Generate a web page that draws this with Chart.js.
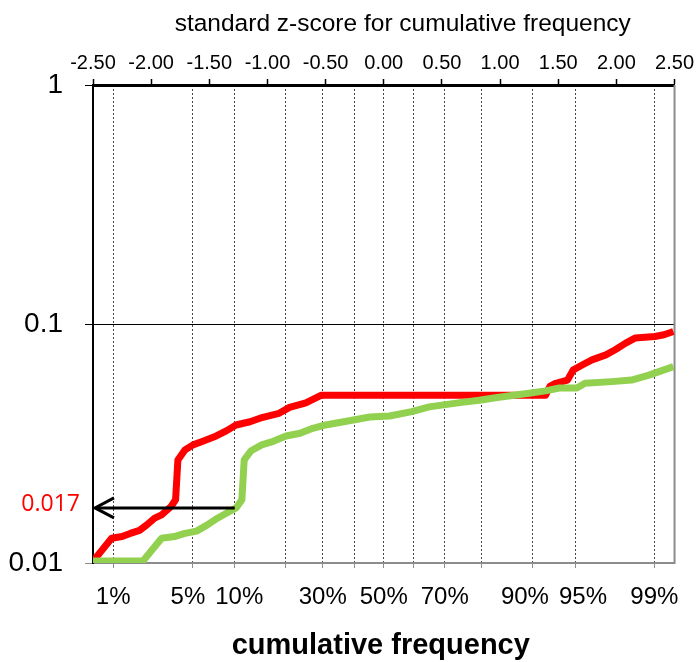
<!DOCTYPE html>
<html>
<head>
<meta charset="utf-8">
<script src="https://cdn.jsdelivr.net/npm/chart.js@4.4.1/dist/chart.umd.min.js"></script>
<style>
  html, body { margin: 0; padding: 0; background: #ffffff; }
  canvas { display: block; }
</style>
</head>
<body>
<canvas id="chart" width="698" height="662"></canvas>
<script>
// Sample 1 (red): standard z-score of cumulative frequency and measured value
const redZ = [-2.49, -2.34, -2.25, -2.18, -2.10, -2.04, -1.97, -1.91, -1.83, -1.79, -1.77, -1.71,
  -1.64, -1.55, -1.44, -1.35, -1.27, -1.15, -1.04, -0.90, -0.81, -0.67, -0.54, 1.39, 1.43, 1.48,
  1.58, 1.63, 1.71, 1.79, 1.91, 1.99, 2.08, 2.16, 2.33, 2.41, 2.49];
const redValues = [0.0103, 0.0127, 0.0129, 0.0133, 0.0137, 0.0144, 0.0154, 0.0159, 0.0172, 0.0184,
  0.0270, 0.0297, 0.0312, 0.0324, 0.0340, 0.0358, 0.0378, 0.0390, 0.0407, 0.0423, 0.0448, 0.0468,
  0.0503, 0.0503, 0.0550, 0.0565, 0.0583, 0.0643, 0.0675, 0.0708, 0.0743, 0.0780, 0.0832, 0.0873,
  0.0887, 0.0901, 0.0930];

// Sample 2 (green)
const greenZ = [-2.50, -2.07, -1.91, -1.80, -1.71, -1.61, -1.52, -1.43, -1.35, -1.27, -1.22, -1.20,
  -1.14, -1.05, -0.95, -0.84, -0.72, -0.61, -0.50, -0.38, -0.12, 0.05, 0.24, 0.39, 0.67, 0.82,
  0.99, 1.25, 1.39, 1.51, 1.66, 1.73, 1.96, 2.13, 2.28, 2.49];
const greenValues = [0.0102, 0.0102, 0.0127, 0.0129, 0.0133, 0.0136, 0.0144, 0.0154, 0.0162, 0.0170,
  0.0184, 0.0270, 0.0295, 0.0312, 0.0323, 0.0340, 0.0349, 0.0366, 0.0378, 0.0387, 0.0408, 0.0412,
  0.0430, 0.0450, 0.0470, 0.0480, 0.0494, 0.0513, 0.0525, 0.0540, 0.0540, 0.0565, 0.0574, 0.0583,
  0.0611, 0.0663];

// Top axis: z-score ticks
const topTicks = [-2.5, -2.0, -1.5, -1.0, -0.5, 0.0, 0.5, 1.0, 1.5, 2.0, 2.5];

// Bottom axis: cumulative-frequency gridlines at their normal quantiles
const gridPercents = ['1%', '5%', '10%', '20%', '30%', '40%', '50%', '60%', '70%', '80%', '90%', '95%', '99%'];
const gridZ = [-2.3263, -1.6449, -1.2816, -0.8416, -0.5244, -0.2533, 0, 0.2533, 0.5244, 0.8416, 1.2816, 1.6449, 2.3263];
const shownPercents = ['1%', '5%', '10%', '30%', '50%', '70%', '90%', '95%', '99%'];

// Value axis
const yTicks = [0.01, 0.1, 1];

// Read-off marker: value at the 10% frequency
const markedValue = 0.017;
const markedZ = -1.2816;

const FONT = '"Liberation Sans", Arial, Helvetica, sans-serif';
const LABEL_GAP = 10;

const toPoints = (zs, vs) => zs.map((z, i) => ({ x: z, y: vs[i] }));

// Pushes neighbouring frequency labels apart when they would touch
const spreadLabels = {
  id: 'spreadLabels',
  beforeDraw(chart) {
    const scale = chart.scales.x;
    const items = scale.getLabelItems().filter(it => it.label !== '');
    const ctx = chart.ctx;
    ctx.save();
    const widths = items.map(it => { ctx.font = it.font.string; return ctx.measureText(it.label).width; });
    ctx.restore();
    for (let i = 1; i < items.length; i++) {
      const a = items[i - 1].options.translation;
      const b = items[i].options.translation;
      const need = (widths[i - 1] + widths[i]) / 2 + LABEL_GAP;
      const have = b[0] - a[0];
      if (have < need) {
        const push = (need - have) / 2;
        a[0] -= push;
        b[0] += push;
      }
    }
  }
};

const decorations = {
  id: 'decorations',
  beforeDatasetsDraw(chart) {
    const { ctx, chartArea: a } = chart;
    ctx.save();
    ctx.strokeStyle = '#8c8c8c';
    ctx.lineWidth = 2;
    ctx.beginPath();
    ctx.moveTo(a.right, a.top);
    ctx.lineTo(a.right, a.bottom + 1);
    ctx.stroke();
    ctx.restore();
  },
  afterDatasetsDraw(chart) {
    const { ctx, chartArea: a, scales } = chart;
    const y = scales.y.getPixelForValue(markedValue);
    const xFrom = scales.x.getPixelForValue(markedZ);
    const tip = a.left + 2;
    ctx.save();
    ctx.strokeStyle = '#000';
    ctx.lineWidth = 3;
    ctx.lineJoin = 'miter';
    ctx.beginPath();
    ctx.moveTo(xFrom, y);
    ctx.lineTo(tip + 1, y);
    ctx.stroke();
    ctx.beginPath();
    ctx.moveTo(tip + 19, y - 10);
    ctx.lineTo(tip, y);
    ctx.lineTo(tip + 19, y + 10);
    ctx.stroke();

    ctx.fillStyle = '#FF0000';
    ctx.font = '23px "Open Sans", "Noto Sans", sans-serif';
    ctx.textAlign = 'right';
    ctx.textBaseline = 'middle';
    ctx.fillText(String(markedValue), a.left - 13, y - 3);

    ctx.fillStyle = '#000';
    ctx.textAlign = 'center';
    ctx.font = '24.5px ' + FONT;
    ctx.fillText('standard z-score for cumulative frequency', (a.left + a.right) / 2 + 19, 24);
    ctx.font = 'bold 29px ' + FONT;
    ctx.fillText('cumulative frequency', (a.left + a.right) / 2 - 3, 646);
    ctx.restore();
  }
};

new Chart(document.getElementById('chart'), {
  type: 'line',
  data: {
    datasets: [
      {
        label: 'red',
        data: toPoints(redZ, redValues),
        borderColor: '#FF0000',
        borderWidth: 7,
        pointRadius: 0,
        tension: 0,
        borderJoinStyle: 'round',
        fill: false,
        order: 2
      },
      {
        label: 'green',
        data: toPoints(greenZ, greenValues),
        borderColor: '#92D050',
        borderWidth: 7,
        pointRadius: 0,
        tension: 0,
        borderJoinStyle: 'round',
        fill: false,
        order: 1
      }
    ]
  },
  options: {
    responsive: false,
    animation: false,
    events: [],
    layout: { padding: { left: 0, right: 22, top: 0, bottom: 0 } },
    plugins: { legend: { display: false }, tooltip: { enabled: false } },
    scales: {
      x: {
        type: 'linear',
        position: 'bottom',
        min: -2.5,
        max: 2.5,
        afterBuildTicks: s => { s.ticks = gridZ.map(v => ({ value: v })); },
        afterFit: s => { s.height = 99; },
        ticks: {
          autoSkip: false,
          maxRotation: 0,
          padding: 15,
          color: '#000',
          font: { family: FONT, size: 24 },
          callback: (v, i) => (shownPercents.includes(gridPercents[i]) ? gridPercents[i] : '')
        },
        grid: { color: '#444', lineWidth: 1, tickLength: 5, tickColor: '#8c8c8c' },
        border: { display: true, color: '#8c8c8c', width: 2, dash: [2, 2] }
      },
      xTop: {
        type: 'linear',
        position: 'top',
        min: -2.5,
        max: 2.5,
        afterBuildTicks: s => { s.ticks = topTicks.map(v => ({ value: v })); },
        afterFit: s => { s.height = 85; },
        ticks: {
          autoSkip: false,
          maxRotation: 0,
          padding: 4,
          color: '#000',
          font: { family: FONT, size: 20 },
          callback: v => Number(v).toFixed(2)
        },
        grid: { drawOnChartArea: false, tickLength: 6, tickColor: '#000', tickWidth: 1.5 },
        border: { display: true, color: '#000', width: 3 }
      },
      y: {
        type: 'logarithmic',
        position: 'left',
        min: 0.01,
        max: 1,
        afterBuildTicks: s => { s.ticks = yTicks.map(v => ({ value: v })); },
        afterFit: s => { s.width = 93; },
        ticks: {
          padding: 22,
          color: '#000',
          font: { family: FONT, size: 28 },
          callback: v => String(v)
        },
        grid: {
          color: '#000',
          lineWidth: 1,
          tickLength: 8,
          tickColor: ctx => (ctx.tick && ctx.tick.value === 0.01 ? '#8c8c8c' : '#000')
        },
        border: { display: true, color: '#000', width: 2 }
      }
    }
  },
  plugins: [spreadLabels, decorations]
});
</script>
</body>
</html>
